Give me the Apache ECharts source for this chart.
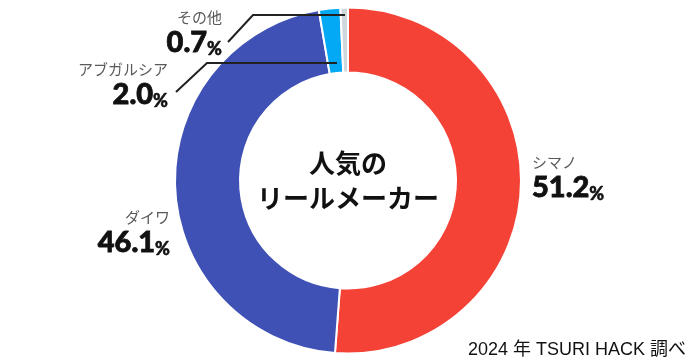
<!DOCTYPE html>
<html><head><meta charset="utf-8">
<script src="https://cdn.jsdelivr.net/npm/echarts@6/dist/echarts.min.js"></script>
<style>html,body{margin:0;padding:0;background:#fff}#c{width:695px;height:363px}</style>
</head><body><div id="c"></div>
<script>
const categories = ['シマノ', 'ダイワ', 'アブガルシア', 'その他'];
const shares = [51.2, 46.1, 2.0, 0.7];
const colors = ['#F44336', '#3F51B5', '#03A9F4', '#CFD8DC'];
const centerTitle = '人気の\nリールメーカー';
const sourceNote = '2024 年 TSURI HACK 調べ';

// label placement per slice (style only)
const labelPlace = [
  {x: 532, y: 177, align: 'left'},
  {x: 170, y: 232, align: 'right'},
  {x: 168, y: 84, align: 'right'},
  {x: 222, y: 32, align: 'right'}
];
const leaderLines = [null, null,
  [[337, 63], [207, 63], [176, 92]],
  [[345, 15], [253, 15], [228, 42]]
];

const chart = echarts.init(document.getElementById('c'), null, {renderer: 'canvas'});
const data = categories.map((name, i) => ({
  name, value: shares[i],
  itemStyle: {color: colors[i]},
  label: {align: labelPlace[i].align}
}));
chart.setOption({
  animation: false,
  series: [{
    type: 'pie',
    center: [348, 180.5],
    radius: [108, 173],
    startAngle: 90,
    clockwise: true,
    avoidLabelOverlap: false,
    itemStyle: {borderColor: '#fff', borderWidth: 2},
    label: {
      show: true,
      position: 'outside',
      formatter: p => '{n|' + p.name + '}\n{v|' + p.value.toFixed(1) + '}{p|%}',
      rich: {
        n: {fontFamily: 'Noto Sans CJK JP', fontSize: 15, color: '#5a5a5a', lineHeight: 22},
        v: {fontFamily: 'Lato', fontWeight: 900, fontSize: 29, color: '#111', lineHeight: 30, textBorderColor: '#111', textBorderWidth: 0.8},
        p: {fontFamily: 'Lato', fontWeight: 900, fontSize: 18, color: '#111', lineHeight: 30, verticalAlign: 'bottom', textBorderColor: '#111', textBorderWidth: 0.5}
      }
    },
    labelLine: {show: false},
    labelLayout: params => {
      const i = params.dataIndex;
      return {x: labelPlace[i].x, y: labelPlace[i].y, align: labelPlace[i].align, verticalAlign: 'middle'};
    },
    data
  }],
  graphic: [
    {type: 'text', x: 348, y: 181, style: {text: centerTitle, fontFamily: 'Noto Sans CJK JP', fontWeight: 'bold', fontSize: 26, lineHeight: 35, fill: '#111', align: 'center', verticalAlign: 'middle'}},
    {type: 'text', x: 686, y: 350, style: {text: sourceNote, fontFamily: 'Liberation Sans, Noto Sans CJK JP', fontSize: 18, fill: '#111', align: 'right', verticalAlign: 'middle'}}
  ].concat(leaderLines.filter(l => l).map(pts => ({
    type: 'polyline', z: 100, shape: {points: pts}, style: {stroke: '#222', lineWidth: 2, fill: null}
  })))
});
</script></body></html>
